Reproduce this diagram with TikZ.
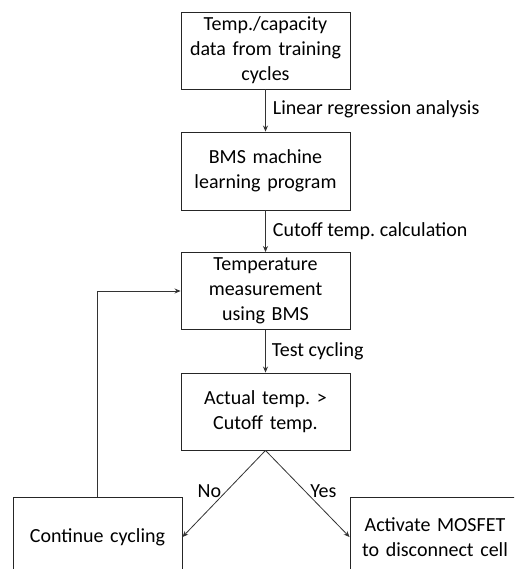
\documentclass[tikz,border=0pt]{standalone}
\usepackage{fontspec}
\setmainfont{Carlito}
\usetikzlibrary{arrows.meta}
\frenchspacing
\begin{document}
\begin{tikzpicture}[x=1pt,y=-1pt,
  stepbox/.style={draw=black!85, line width=0.9pt, minimum width=169pt, text width=165pt, align=center, inner sep=0pt, font=\fontsize{20}{25}\selectfont},
  conn/.style={draw=black!80, line width=0.8pt, -{Stealth[length=6pt,width=5pt]}},
  lbl/.style={font=\fontsize{20}{25}\selectfont, inner sep=2pt}]
\useasboundingbox (0,0) rectangle (514,569);
\clip (0,0) rectangle (514,569);
\fill[white] (0,0) rectangle (514,569);
\node[stepbox, minimum height=77pt] (b1) at (265.5,50.5) {Temp./capacity\\data from training\\cycles};
\node[stepbox, minimum height=78pt] (b2) at (265.5,171) {BMS machine\\learning program};
\node[stepbox, minimum height=77pt] (b3) at (265.5,291) {Temperature\\measurement\\using BMS};
\node[stepbox, minimum height=77pt] (b4) at (265.5,411.5) {Actual temp. >\\Cutoff temp.};
\node[stepbox, minimum height=80pt] (b5) at (97.5,537) {Continue cycling};
\node[stepbox, minimum height=80pt, minimum width=170pt] (b6) at (435,537) {Activate MOSFET\\to disconnect cell};
\draw[conn] (b1) -- node[lbl, right, xshift=5pt, yshift=1pt] {Linear regression analysis} (b2);
\draw[conn] (b2) -- node[lbl, right, xshift=5pt] {Cutoff temp. calculation} (b3);
\draw[conn] (b3) -- node[lbl, right, xshift=4pt] {Test cycling} (b4);
\draw[conn] (b4.south) -- node[lbl, pos=0.47, left, xshift=-3pt] {No} (b5.east);
\draw[conn] (b4.south) -- node[lbl, pos=0.47, right, xshift=3pt] {Yes} (b6.west);
\draw[conn] (b5.north) |- (b3.west);
\end{tikzpicture}
\end{document}
